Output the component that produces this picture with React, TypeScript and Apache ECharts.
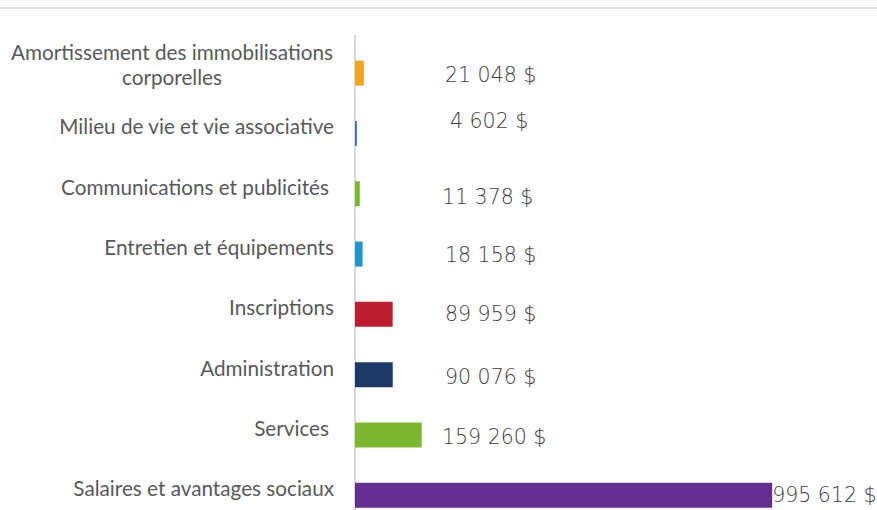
import React, { useEffect, useRef } from "react";
import * as echarts from "echarts";

const categories = [
  "Amortissement des immobilisations\ncorporelles",
  "Milieu de vie et vie associative",
  "Communications et publicités",
  "Entretien et équipements",
  "Inscriptions",
  "Administration",
  "Services",
  "Salaires et avantages sociaux",
];
const values = [21048, 4602, 11378, 18158, 89959, 90076, 159260, 995612];
const barColors = [
  "#F7A21B",
  "#4472C4",
  "#77B72B",
  "#2196CC",
  "#BF1E2E",
  "#1B3A67",
  "#7CB82F",
  "#662D91",
];

// label placement tweaks (style only)
const valueLabelLeft = [445, 450, 442, 445, 445, 445, 442];
const valueLabelDy = [2, -12, 3, 1, 0, 2, 2];
const catLabelShifted = [false, false, true, false, false, false, true, false];

const fmt = (v: number) =>
  String(v).replace(/\B(?=(\d{3})+(?!\d))/g, " ") + " $";

export default function App() {
  const ref = useRef<HTMLDivElement>(null);
  useEffect(() => {
    const chart = echarts.init(ref.current!, undefined, { renderer: "svg" });
    const gridLeft = 355;
    const barH = 25;
    const catFont = "Lato";
    const valFont = "DejaVu Sans";
    chart.setOption({
      animation: false,
      grid: { left: gridLeft, top: 43, width: 419, height: 482.4, containLabel: false },
      xAxis: {
        type: "value",
        min: 0,
        max: 1000000,
        show: false,
      },
      yAxis: {
        type: "category",
        inverse: true,
        data: categories.map((c, i) =>
          i === 0
            ? {
                value: c,
                textStyle: {
                  align: "center",
                  verticalAlign: "bottom",
                  lineHeight: 25,
                  padding: [0, 324, -16.5, 0],
                },
              }
            : c
        ),
        axisLine: { show: true, lineStyle: { color: "#D9D9D9", width: 2 } },
        axisTick: { show: false },
        axisLabel: {
          margin: 21,
          color: "#595959",
          fontFamily: catFont,
          fontSize: 20.7,
          align: "right",
          verticalAlign: "middle",
          formatter: (v: string, i: number) =>
            i === 0 ? v : `{${catLabelShifted[i] ? "b" : "a"}|${v}}`,
          rich: {
            a: { fontFamily: catFont, fontSize: 20.7, color: "#595959", padding: [0, 0, 14, 0] },
            b: { fontFamily: catFont, fontSize: 20.7, color: "#595959", padding: [0, 5, 14, 0] },
          },
        },
        splitLine: { show: false },
      },
      series: [
        {
          type: "bar",
          barWidth: barH,
          data: values.map((v, i) => ({
            value: v,
            itemStyle: { color: barColors[i] },
            label:
              i === values.length - 1
                ? { show: true, position: "right", distance: 0 }
                : {
                    show: true,
                    position: [valueLabelLeft[i] - gridLeft, barH / 2 + valueLabelDy[i]],
                    align: "left",
                    verticalAlign: "middle",
                  },
          })),
          label: {
            show: true,
            color: "#404040",
            fontFamily: valFont,
            fontWeight: 300,
            fontSize: 20.5,
            formatter: (p: any) => fmt(p.value),
          },
        },
      ],
      graphic: [
        {
          type: "line",
          shape: { x1: 0, y1: 8, x2: 877, y2: 8 },
          style: { stroke: "#D9D9D9", lineWidth: 1.5 },
        },
        {
          type: "line",
          shape: { x1: gridLeft, y1: 35, x2: gridLeft, y2: 44 },
          style: { stroke: "#D9D9D9", lineWidth: 2 },
        },
      ],
    });
    return () => chart.dispose();
  }, []);
  return (
    <div
      style={{
        position: "absolute",
        left: 0,
        top: 0,
        width: 877,
        height: 510,
        overflow: "hidden",
      }}
    >
      <div ref={ref} style={{ width: 877, height: 530 }} />
    </div>
  );
}
